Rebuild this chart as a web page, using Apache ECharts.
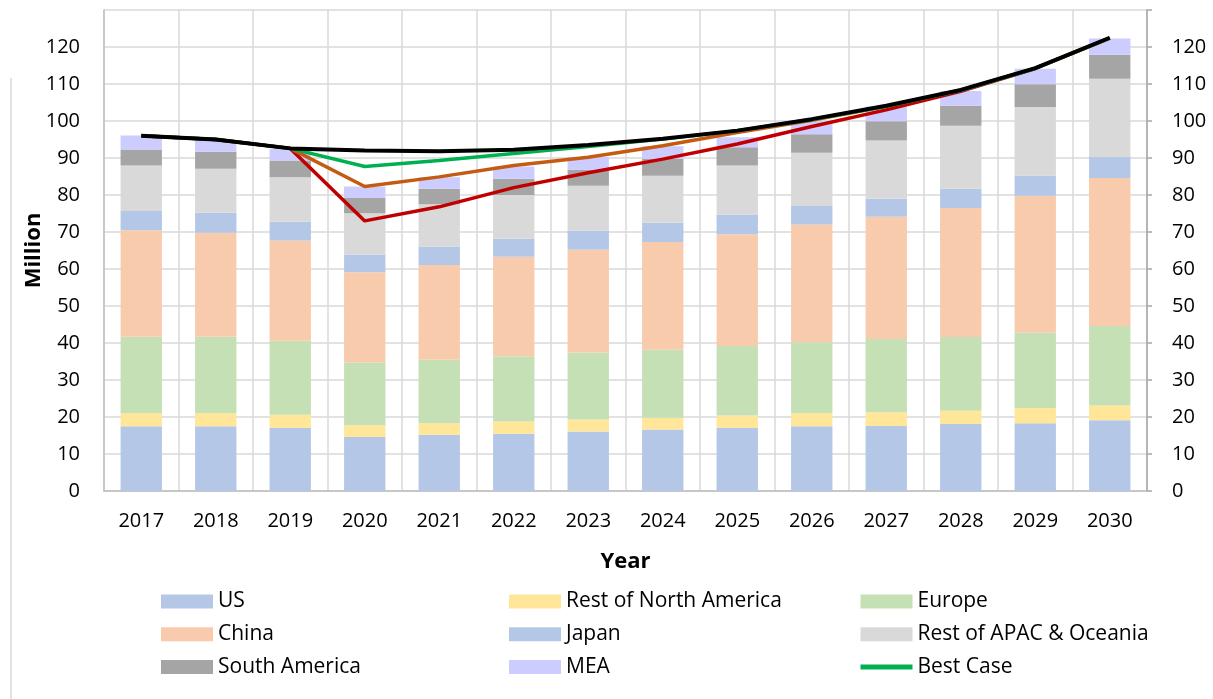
<!DOCTYPE html>
<html><head><meta charset="utf-8">
<script src="https://cdn.jsdelivr.net/npm/echarts@6/dist/echarts.min.js"></script>
<style>html,body{margin:0;padding:0;background:#fff}#c{width:1213px;height:699px}</style>
</head><body><div id="c"></div>
<script>
const years = ['2017','2018','2019','2020','2021','2022','2023','2024','2025','2026','2027','2028','2029','2030'];
const us        = [17.5,17.5,17.0,14.6,15.2,15.5,16.1,16.6,17.0,17.5,17.6,18.1,18.3,19.1];
const restNA    = [3.5,3.5,3.6,3.2,3.1,3.3,3.2,3.2,3.4,3.5,3.7,3.6,4.1,4.0];
const europe    = [20.7,20.7,20.0,16.9,17.2,17.6,18.1,18.4,18.8,19.2,19.8,19.9,20.4,21.5];
const china     = [28.8,28.1,27.1,24.4,25.6,26.9,27.8,29.1,30.2,31.8,33.0,34.9,37.0,40.0];
const japan     = [5.2,5.4,5.1,4.8,5.0,4.9,5.2,5.2,5.3,5.0,4.9,5.2,5.5,5.7];
const restAPAC  = [12.3,11.9,12.0,11.2,11.4,11.8,12.1,12.7,13.3,14.4,15.7,17.0,18.5,21.1];
const southAm   = [4.3,4.6,4.5,4.1,4.2,4.4,4.3,4.5,4.9,5.0,5.2,5.4,6.1,6.5];
const mea       = [3.8,3.1,3.2,3.1,3.1,3.3,3.5,3.5,2.7,3.7,4.0,4.0,4.2,4.4];
const bestCase  = [96.0,95.0,92.6,87.7,89.3,91.2,93.1,95.1,97.4,100.4,104.0,108.3,114.2,122.4];
const baseCase  = [96.0,95.0,92.6,82.3,84.9,88.0,90.2,93.3,96.9,100.2,104.0,108.3,114.2,122.4];
const worstCase = [96.0,95.0,92.6,73.0,76.8,82.0,86.0,89.7,93.8,98.5,103.0,108.0,114.2,122.4];
const preCovid  = [96.0,95.0,92.6,92.0,91.8,92.2,93.5,95.2,97.4,100.5,104.1,108.4,114.3,122.5];
const yTicks = [0,10,20,30,40,50,60,70,80,90,100,110,120];

const FONT = '"Open Sans", sans-serif';
const chart = echarts.init(document.getElementById('c'), null, {renderer:'canvas'});

function bar(name, data, color){
  return {name, type:'bar', stack:'total', data, barCategoryGap:'44.5%',
    itemStyle:{color}, emphasis:{disabled:true}};
}
function line(name, data, color, width){
  return {name, type:'line', data, symbol:'none', smooth:false,
    lineStyle:{color, width}, itemStyle:{color}, emphasis:{disabled:true}};
}
const legendBase = {orient:'vertical', top:591, padding:0, itemGap:11.7, itemWidth:52, itemHeight:14,
  textStyle:{fontFamily:FONT, fontSize:21, lineHeight:20, color:'#000'}, selectedMode:false};

const yAxisBase = {type:'value', min:0, max:130, interval:10,
  axisLabel:{fontFamily:FONT, fontSize:20, color:'#000',
    formatter:v => yTicks.indexOf(v) >= 0 ? String(v) : ''}};

chart.setOption({
  animation:false,
  backgroundColor:'#fff',
  grid:{left:104, right:66, top:10, bottom:208},
  legend:[
    Object.assign({}, legendBase, {left:161, data:[{name:'US',icon:'rect'},{name:'China',icon:'rect'},{name:'South America',icon:'rect'}]}),
    Object.assign({}, legendBase, {left:509, data:[{name:'Rest of North America',icon:'rect'},{name:'Japan',icon:'rect'},{name:'MEA',icon:'rect'}]}),
    Object.assign({}, legendBase, {left:858, data:[{name:'Europe',icon:'rect'},{name:'Rest of APAC & Oceania',icon:'rect'},
      {name:'Best Case', itemStyle:{color:'rgba(0,0,0,0)', borderWidth:0, opacity:0}, lineStyle:{width:5, color:'#00B050'}}]})
  ],
  xAxis:{type:'category', data:years, boundaryGap:true,
    name:'Year', nameLocation:'middle', nameGap:60,
    nameTextStyle:{fontFamily:FONT, fontSize:22, fontWeight:'bold', color:'#000'},
    axisLine:{lineStyle:{color:'#BFBFBF', width:1.5}}, axisTick:{show:false},
    axisLabel:{fontFamily:FONT, fontSize:20, color:'#000', margin:20, interval:0},
    splitLine:{show:true, interval:0, lineStyle:{color:'#D9D9D9', width:1.5}}},
  yAxis:[
    Object.assign({}, yAxisBase, {position:'left',
      name:'Million', nameLocation:'middle', nameGap:59, nameRotate:90, nameMoveOverlap:false,
      nameTextStyle:{fontFamily:FONT, fontSize:22, fontWeight:'bold', color:'#000'},
      axisLine:{show:true, lineStyle:{color:'#BFBFBF', width:1.5}}, axisTick:{show:false},
      axisLabel:Object.assign({}, yAxisBase.axisLabel, {margin:24}),
      splitLine:{show:true, lineStyle:{color:'#D9D9D9', width:1.5}}}),
    Object.assign({}, yAxisBase, {position:'right',
      axisLine:{show:true, lineStyle:{color:'#A6A6A6', width:1.5}},
      axisTick:{show:true, length:5, lineStyle:{color:'#A6A6A6', width:1.5}},
      axisLabel:Object.assign({}, yAxisBase.axisLabel, {margin:25}),
      splitLine:{show:false}})
  ],
  graphic:[{type:'line', shape:{x1:11, y1:78, x2:11, y2:699}, style:{stroke:'#D9D9D9', lineWidth:1.5}, silent:true}],
  series:[
    bar('US', us, '#B4C7E7'),
    bar('Rest of North America', restNA, '#FFE699'),
    bar('Europe', europe, '#C5E0B4'),
    bar('China', china, '#F8CBAD'),
    bar('Japan', japan, '#B4C7E7'),
    bar('Rest of APAC & Oceania', restAPAC, '#D9D9D9'),
    bar('South America', southAm, '#A5A5A5'),
    bar('MEA', mea, '#CCCCFF'),
    line('Worst Case', worstCase, '#C00000', 3.5),
    line('Base Case', baseCase, '#C55A11', 3.5),
    line('Best Case', bestCase, '#00B050', 3.5),
    line('Pre-COVID', preCovid, '#000000', 4)
  ]
});
</script>
</body></html>
